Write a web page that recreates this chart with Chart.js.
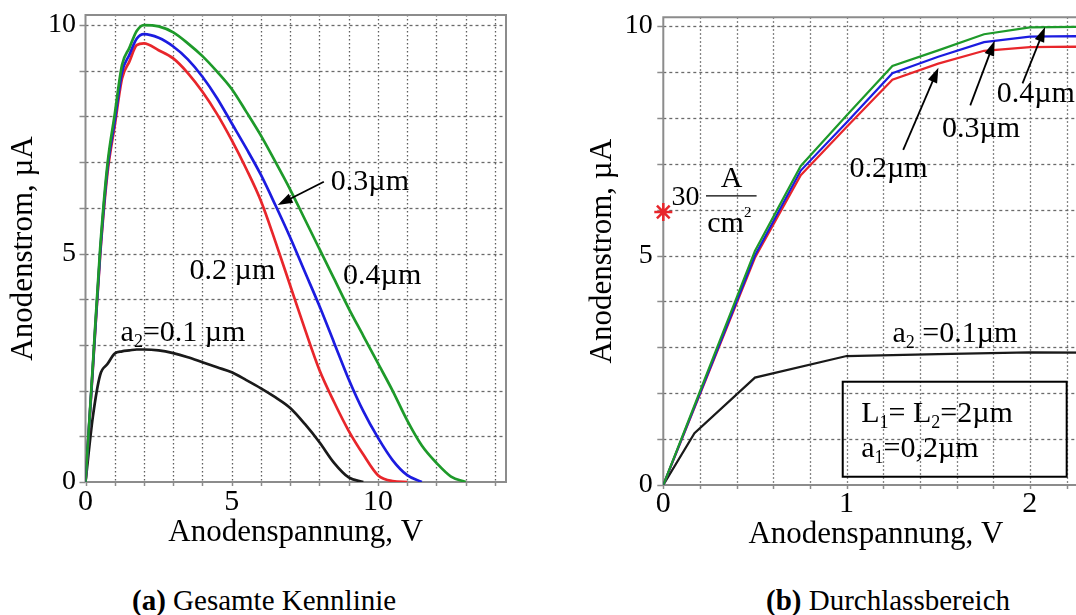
<!DOCTYPE html>
<html>
<head>
<meta charset="utf-8">
<script src="https://cdn.jsdelivr.net/npm/chart.js@4.4.0/dist/chart.umd.min.js"></script>
<style>
  html, body { margin: 0; padding: 0; background: #fff; overflow: hidden; }
  body { width: 1076px; height: 615px; position: relative; }
  #cA { position: absolute; left: 0; top: 0; }
  #cB { position: absolute; left: 540px; top: 0; }
  .caption { position: absolute; top: 586px; font-family: "Liberation Serif", "Times New Roman", serif;
             font-size: 29px; line-height: 29px; white-space: nowrap; color: #000; }
</style>
</head>
<body>
<canvas id="cA" width="540" height="560"></canvas>
<canvas id="cB" width="560" height="560"></canvas>
<div class="caption" style="left:132px"><b>(a)</b> Gesamte Kennlinie</div>
<div class="caption" style="left:766px"><b>(b)</b> Durchlassbereich</div>
<script>
// (a) Gesamte Kennlinie: anode voltage (V) / anode current (µA)
const voltA = [0, 0.25, 0.5, 0.75, 1, 1.25, 1.5, 1.75, 2, 2.5, 3, 3.5, 4, 4.5, 5, 5.5, 6, 6.5, 7, 7.5,
               8, 8.5, 9, 9.5, 10, 10.5, 11, 11.5, 12, 12.5, 13];
const currA04 = [0, 2.55, 5.1, 6.95, 8.05, 9.13, 9.5, 9.87, 10.0, 9.97, 9.84, 9.6, 9.32, 8.98, 8.6, 8.1, 7.58, 7.0, 6.4, 5.75,
                 5.1, 4.45, 3.8, 3.2, 2.6, 2.0, 1.35, 0.8, 0.42, 0.12, 0];
const currA03 = [0, 2.5, 5.0, 6.85, 7.9, 8.97, 9.35, 9.7, 9.8, 9.72, 9.53, 9.25, 8.87, 8.4, 7.85, 7.3, 6.72, 6.05, 5.35, 4.6,
                 3.85, 3.05, 2.25, 1.55, 0.97, 0.48, 0.15, 0];
const currA02 = [0, 2.47, 4.95, 6.75, 7.8, 8.83, 9.2, 9.56, 9.6, 9.45, 9.27, 8.95, 8.54, 8.05, 7.48, 6.85, 6.15, 5.25, 4.3, 3.35,
                 2.45, 1.75, 1.12, 0.6, 0.15, 0.02, 0];
const currA01 = [0, 1.42, 2.34, 2.58, 2.81, 2.86, 2.88, 2.9, 2.9, 2.88, 2.82, 2.73, 2.62, 2.51, 2.4, 2.23, 2.05, 1.85, 1.62, 1.27,
                 0.87, 0.42, 0.1, 0];

// (b) Durchlassbereich
const voltB = [0, 0.25, 0.5, 0.75, 1, 1.25, 1.5, 1.75, 2, 2.25, 2.5];
const currB04 = [0, 2.55, 5.1, 6.95, 8.05, 9.13, 9.47, 9.82, 9.97, 9.98, 9.97];
const currB03 = [0, 2.5, 5.0, 6.85, 7.9, 8.97, 9.33, 9.65, 9.77, 9.78, 9.72];
const currB02 = [0, 2.47, 4.95, 6.75, 7.8, 8.83, 9.18, 9.46, 9.54, 9.55, 9.5];
const voltB01 = [0, 0.17, 0.5, 1, 1.5, 2, 2.5];
const currB01 = [0, 1.13, 2.34, 2.81, 2.85, 2.89, 2.88];
const markX = [0];          // 30 A/cm2 marker
const markY = [5.95];

// ticks
const xTicksA = [0, 1, 2, 3, 4, 5, 6, 7, 8, 9, 10, 11, 12, 13, 14];
const xLabelsA = [0, 5, 10];
const xTicksB = [0, 0.2, 0.4, 0.6, 0.8, 1, 1.2, 1.4, 1.6, 1.8, 2, 2.2];
const xLabelsB = [0, 1, 2];
const yTicks = [0, 1, 2, 3, 4, 5, 6, 7, 8, 9, 10];
const yLabels = [0, 5, 10];

const FONT = '"Liberation Serif", "Times New Roman", serif';
Chart.defaults.font.family = FONT;
Chart.defaults.color = '#000';

const GREEN = '#1e9a2a', BLUE = '#1c1ce0', RED = '#e8262b', BLACK = '#1a1a1a';
const AXIS = '#8c8c8c';

function pts(xs, ys) {
  return ys.map((y, i) => ({ x: xs[i], y: y }));
}

// text with _x subscript and ^x superscript
function richText(ctx, str, x, y, size, align) {
  const segs = str.split(/([_^].)/).filter(s => s !== '').map(p => {
    if (p[0] === '_' && p.length === 2) return { t: p[1], size: size * 0.6, dy: size * 0.2 };
    if (p[0] === '^' && p.length === 2) return { t: p[1], size: size * 0.5, dy: -size * 0.5 };
    return { t: p, size: size, dy: 0 };
  });
  let w = 0;
  segs.forEach(s => { ctx.font = s.size + 'px ' + FONT; s.w = ctx.measureText(s.t).width; w += s.w; });
  let cx = align === 'center' ? x - w / 2 : x;
  ctx.textAlign = 'left';
  ctx.textBaseline = 'alphabetic';
  segs.forEach(s => { ctx.font = s.size + 'px ' + FONT; ctx.fillText(s.t, cx, y + s.dy); cx += s.w; });
}

function arrow(ctx, x1, y1, x2, y2) {
  const a = Math.atan2(y2 - y1, x2 - x1), L = 15, W = 5;
  const c = Math.cos(a), s = Math.sin(a);
  ctx.beginPath();
  ctx.moveTo(x1, y1);
  ctx.lineTo(x2 - L * 0.8 * c, y2 - L * 0.8 * s);
  ctx.stroke();
  ctx.beginPath();
  ctx.moveTo(x2, y2);
  ctx.lineTo(x2 - L * c + W * s, y2 - L * s - W * c);
  ctx.lineTo(x2 - L * c - W * s, y2 - L * s + W * c);
  ctx.closePath();
  ctx.fill();
}

// dotted grid, tick marks and the grey frame
function drawFrame(chart, xTicks) {
  const { ctx, chartArea: a, scales } = chart;
  const crisp = p => Math.round(p) + 0.5;
  ctx.save();
  ctx.lineWidth = 1.3;
  ctx.strokeStyle = '#5e5e5e';
  ctx.setLineDash([1.5, 2.5]);
  xTicks.forEach(v => {
    if (v === 0) return;
    const p = crisp(scales.x.getPixelForValue(v));
    ctx.beginPath(); ctx.moveTo(p, a.top); ctx.lineTo(p, a.bottom); ctx.stroke();
  });
  ctx.strokeStyle = '#6a6a6a';
  ctx.setLineDash([3, 3]);
  yTicks.forEach(v => {
    if (v === 0) return;
    const p = crisp(scales.y.getPixelForValue(v));
    ctx.beginPath(); ctx.moveTo(a.left, p); ctx.lineTo(a.right, p); ctx.stroke();
  });
  ctx.setLineDash([]);
  ctx.strokeStyle = AXIS;
  ctx.lineWidth = 1.5;
  xTicks.forEach(v => {
    const p = crisp(scales.x.getPixelForValue(v));
    ctx.beginPath(); ctx.moveTo(p, a.bottom); ctx.lineTo(p, a.bottom + 4); ctx.stroke();
  });
  yTicks.forEach(v => {
    const p = crisp(scales.y.getPixelForValue(v));
    ctx.beginPath(); ctx.moveTo(a.left - 6, p); ctx.lineTo(a.left, p); ctx.stroke();
  });
  ctx.lineWidth = 2;
  ctx.beginPath();
  ctx.moveTo(a.left, a.bottom);
  ctx.lineTo(a.left, a.top);
  ctx.lineTo(a.right, a.top);
  ctx.lineTo(a.right, a.bottom);
  ctx.lineTo(a.left, a.bottom);
  ctx.stroke();
  ctx.restore();
}

function makeOverlay(xTicks, ann) {
  return {
    id: 'overlay',
    beforeDatasetsDraw(chart) {
      drawFrame(chart, xTicks);
    },
    afterDatasetsDraw(chart) {
      const { ctx, scales } = chart;
      const px = v => scales.x.getPixelForValue(v);
      const py = v => scales.y.getPixelForValue(v);
      ctx.save();
      ctx.fillStyle = '#000';
      ctx.strokeStyle = '#000';
      (ann.labels || []).forEach(l => richText(ctx, l.text, px(l.x), py(l.y), l.size || 30, l.align));
      ctx.lineWidth = 1.8;
      (ann.arrows || []).forEach(r => arrow(ctx, px(r[0]), py(r[1]), px(r[2]), py(r[3])));
      ctx.lineWidth = 1.3;
      (ann.rules || []).forEach(r => {
        ctx.beginPath(); ctx.moveTo(px(r[0]), py(r[2])); ctx.lineTo(px(r[1]), py(r[2])); ctx.stroke();
      });
      ctx.lineWidth = 2;
      (ann.boxes || []).forEach(b => {
        ctx.strokeRect(px(b[0]), py(b[3]), px(b[1]) - px(b[0]), py(b[2]) - py(b[3]));
      });
      ctx.restore();
    }
  };
}

function scalesFor(o) {
  const hidden = { color: 'rgba(0,0,0,0)', tickColor: 'rgba(0,0,0,0)' };
  return {
    x: {
      type: 'linear', min: 0, max: o.xMax,
      afterBuildTicks: s => { s.ticks = o.xTicks.map(v => ({ value: v })); },
      afterFit: s => { s.height = o.xHeight; },
      ticks: {
        callback: v => o.xLabels.includes(v) ? String(v) : '',
        font: { size: 30, lineHeight: 1 }, padding: o.xPad, maxRotation: 0, autoSkip: false, color: '#000'
      },
      grid: Object.assign({ tickLength: 4 }, hidden),
      border: { display: false },
      title: { display: true, text: 'Anodenspannung, V', color: '#000',
               font: { size: 31, lineHeight: 1.2 }, padding: { top: 0, bottom: 0 } }
    },
    y: {
      type: 'linear', min: 0, max: o.yMax,
      afterBuildTicks: s => { s.ticks = yTicks.map(v => ({ value: v })); },
      afterFit: s => { s.width = o.yWidth; },
      ticks: {
        callback: v => yLabels.includes(v) ? String(v) : '',
        font: { size: 28, lineHeight: 0.8 }, padding: o.yPad, autoSkip: false, color: '#000'
      },
      grid: Object.assign({ tickLength: 6 }, hidden),
      border: { display: false },
      title: { display: true, text: 'Anodenstrom, µA', color: '#000',
               font: { size: 31, lineHeight: 1.2 }, padding: { top: o.yTitlePad, bottom: 0 } }
    }
  };
}

function lineSet(xs, ys, color, width, smooth) {
  return {
    data: pts(xs, ys), borderColor: color, borderWidth: width, pointRadius: 0,
    fill: false, tension: 0, cubicInterpolationMode: smooth ? 'monotone' : 'default'
  };
}

const common = {
  responsive: false,
  animation: false,
  events: [],
  plugins: { legend: { display: false }, tooltip: { enabled: false } }
};

new Chart(document.getElementById('cA'), {
  type: 'line',
  data: {
    datasets: [
      lineSet(voltA, currA04, GREEN, 2.7, true),
      lineSet(voltA, currA03, BLUE, 2.7, true),
      lineSet(voltA, currA02, RED, 2.7, true),
      lineSet(voltA, currA01, BLACK, 2.7, true)
    ]
  },
  options: Object.assign({}, common, {
    layout: { padding: { left: 0, top: 15, right: 34, bottom: 8.9 } },
    scales: scalesFor({ xMax: 14.38, yMax: 10.22, xTicks: xTicksA, xLabels: xLabelsA,
                        xHeight: 69.1, xPad: 1.5, yWidth: 85.5, yPad: 3.5, yTitlePad: 4.9 })
  }),
  plugins: [makeOverlay(xTicksA, {
    labels: [
      { text: '0.3µm', x: 8.39, y: 6.38 },
      { text: '0.2 µm', x: 3.56, y: 4.44 },
      { text: '0.4µm', x: 8.81, y: 4.34 },
      { text: 'a_2=0.1 µm', x: 1.2, y: 3.09 }
    ],
    arrows: [[8.15, 6.57, 6.57, 6.06]]
  })]
});

new Chart(document.getElementById('cB'), {
  type: 'line',
  data: {
    datasets: [
      { data: pts(markX, markY), showLine: false, pointStyle: 'star', pointRadius: 9,
        pointBorderWidth: 2.5, borderColor: RED, backgroundColor: RED, clip: false },
      lineSet(voltB, currB04, GREEN, 2.2, false),
      lineSet(voltB, currB03, BLUE, 2.2, false),
      lineSet(voltB, currB02, RED, 2.2, false),
      lineSet(voltB01, currB01, BLACK, 2.2, false)
    ]
  },
  options: Object.assign({}, common, {
    layout: { padding: { left: 0, top: 17.3, right: 3.8, bottom: 6.9 } },
    scales: scalesFor({ xMax: 2.32, yMax: 10.19, xTicks: xTicksB, xLabels: xLabelsB,
                        xHeight: 68.1, xPad: 0, yWidth: 123.3, yPad: 4.6, yTitlePad: 44.4 })
  }),
  plugins: [makeOverlay(xTicksB, {
    labels: [
      { text: '0.2µm', x: 1.016, y: 6.71 },
      { text: '0.3µm', x: 1.52, y: 7.58 },
      { text: '0.4µm', x: 1.819, y: 8.35 },
      { text: 'a_2 =0.1µm', x: 1.25, y: 3.12 },
      { text: 'L_1= L_2=2µm', x: 1.08, y: 1.38 },
      { text: 'a_1=0,2µm', x: 1.08, y: 0.62 },
      { text: '30', x: 0.045, y: 6.1, size: 28 },
      { text: 'A', x: 0.373, y: 6.5, align: 'center' },
      { text: 'cm^2', x: 0.24, y: 5.52 }
    ],
    arrows: [[1.309, 7.3, 1.501, 9.09], [1.675, 8.27, 1.808, 9.68], [1.96, 8.75, 2.083, 9.98]],
    rules: [[0.233, 0.509, 6.3]],
    boxes: [[0.979, 2.201, 0.18, 2.25]]
  })]
});
</script>
</body>
</html>
